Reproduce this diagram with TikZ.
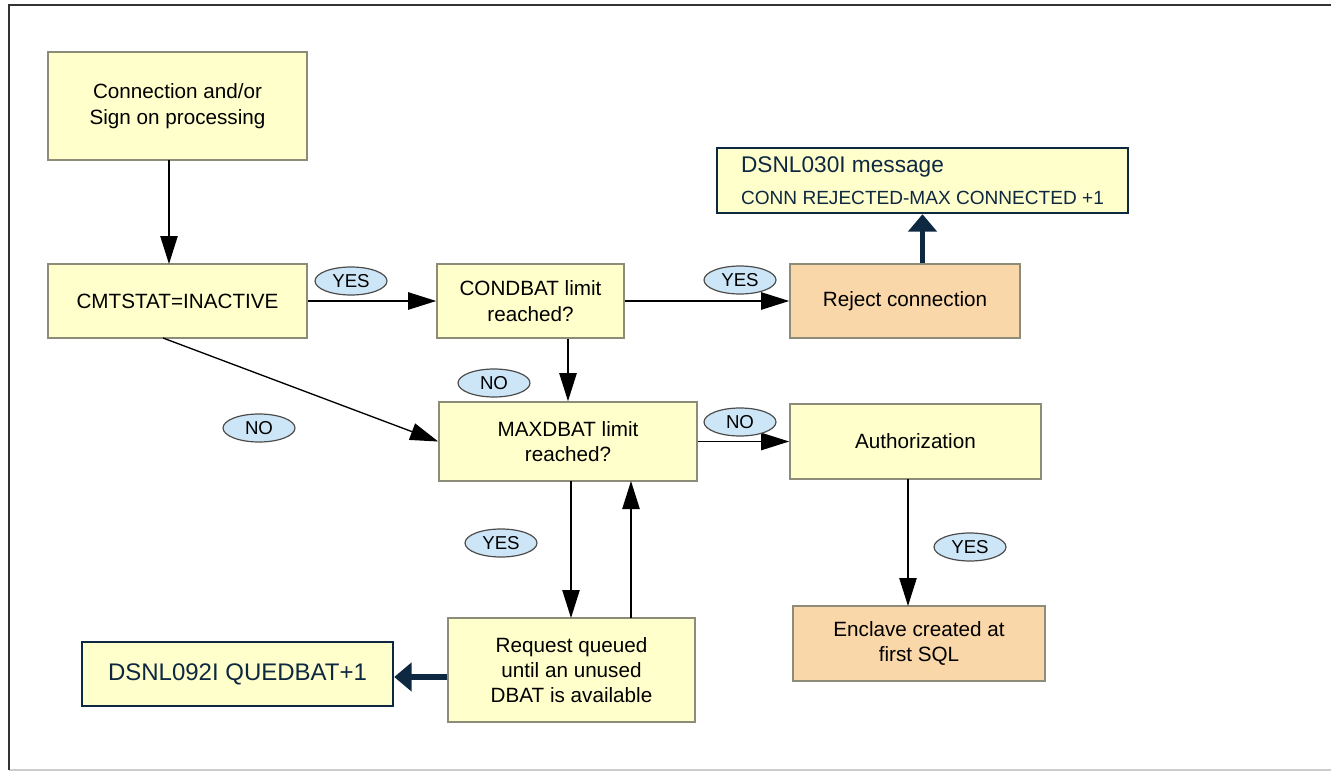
\documentclass[tikz,border=0pt]{standalone}
\usepackage{fontspec}
\setmainfont{Liberation Sans}
\usetikzlibrary{arrows.meta,shapes.geometric}

\definecolor{boxyellow}{RGB}{255,255,204}
\definecolor{boxorange}{RGB}{250,215,168}
\definecolor{boxline}{RGB}{140,140,120}
\definecolor{msgnavy}{RGB}{14,40,65}
\definecolor{lblblue}{RGB}{205,230,247}

\tikzset{
	box/.style={draw=boxline, fill=boxyellow, line width=1.2pt, align=center, inner sep=0pt, font=\fontsize{15.5}{19}\selectfont},
	endbox/.style={box, fill=boxorange},
	msgbox/.style={draw=msgnavy, fill=boxyellow, line width=1.8pt, inner sep=0pt, text=msgnavy},
	lbl/.style={ellipse, draw=black!70, fill=lblblue, line width=0.9pt, inner sep=0pt, minimum width=54pt, minimum height=21pt, font=\fontsize{14}{15}\selectfont},
	flow/.style={line width=1pt, -{Triangle[length=21pt,width=13pt]}},
	msgflow/.style={draw=msgnavy, line width=4pt, -{Triangle[length=13pt,width=21pt]}}
}
\tikzset{every picture/.style={line width=0.75pt}}

\begin{document}
\begin{tikzpicture}[x=0.75pt,y=0.75pt,yscale=-1,xscale=1]
	\useasboundingbox (0,0) rectangle (1331,774);

	%Frame
	\draw [black!20, line width=1pt] (9,770) -- (1331,770) ;
	\draw [black!80, line width=1.5pt] (1331,5) -- (9,5) -- (9,770) ;

	%Shape: Rectangle [conn]
	\node [box, minimum width=194.25pt, minimum height=81pt] (conn) at (177.5,106) {Connection and/or\\Sign on processing};
	%Shape: Rectangle [cmt]
	\node [box, minimum width=194.25pt, minimum height=55.5pt] (cmt) at (177.5,301) {CMTSTAT=INACTIVE};
	%Shape: Rectangle [cond]
	\node [box, minimum width=140.25pt, minimum height=55.5pt] (cond) at (530.5,301) {CONDBAT limit\\reached?};
	%Shape: Rectangle [reject]
	\node [endbox, minimum width=172.5pt, minimum height=55.5pt] (reject) at (905,301) {Reject connection};
	%Shape: Rectangle [maxd]
	\node [box, minimum width=193.5pt, minimum height=59.25pt] (maxd) at (568,441.5) {MAXDBAT limit\\reached?};
	%Shape: Rectangle [auth]
	\node [box, minimum width=188.25pt, minimum height=56.25pt] (auth) at (915.5,441.5) {Authorization};
	%Shape: Rectangle [encl]
	\node [endbox, minimum width=189pt, minimum height=56.25pt] (encl) at (919,643.5) {Enclave created at\\first SQL};
	%Shape: Rectangle [req]
	\node [box, minimum width=185.25pt, minimum height=78pt] (req) at (571.5,670) {Request queued\\until an unused\\DBAT is available};

	%Shape: Rectangle [msg030]
	\node [msgbox, minimum width=308.25pt, minimum height=48.75pt, align=left, font=\fontsize{17}{24}\selectfont] (msg030) at (922.5,180.5) {DSNL030I message\\{\fontsize{14.3}{16}\selectfont CONN REJECTED-MAX CONNECTED +1}};
	%Shape: Rectangle [msg092]
	\node [msgbox, minimum width=233.25pt, minimum height=48pt, font=\fontsize{18}{21}\selectfont] (msg092) at (237.5,674) {DSNL092I QUEDBAT+1};

	%Straight Lines
	\draw [flow] (169,160) -- (169,264) ;
	\draw [flow] (cmt.east) -- (cond.west) ;
	\draw [flow] (cond.east) -- (reject.west) ;
	\draw [flow] (maxd.north |- cond.south) -- (maxd.north) ;
	\draw [flow] (163,338) -- (maxd.west) ;
	\draw [flow] (maxd.east) -- (auth.west) ;
	\draw [flow] (571,481) -- (571,618) ;
	\draw [flow] (631,618) -- (631,481) ;
	\draw [flow] (908,479) -- (908,606) ;
	%Thick navy arrows
	\draw [msgflow] (msg030.south |- reject.north) -- (msg030.south) ;
	\draw [msgflow] (req.west |- 0,677) -- (msg092.east |- 0,677) ;

	% Label Nodes
	\node [lbl] (yes1) at (351,281) {YES};
	\node [lbl] (yes2) at (740,280) {YES};
	\node [lbl] (no1) at (494,383) {NO};
	\node [lbl] (no2) at (259,428) {NO};
	\node [lbl] (no3) at (740,422) {NO};
	\node [lbl] (yes3) at (501,543) {YES};
	\node [lbl] (yes4) at (970,547) {YES};

\end{tikzpicture}
\end{document}
